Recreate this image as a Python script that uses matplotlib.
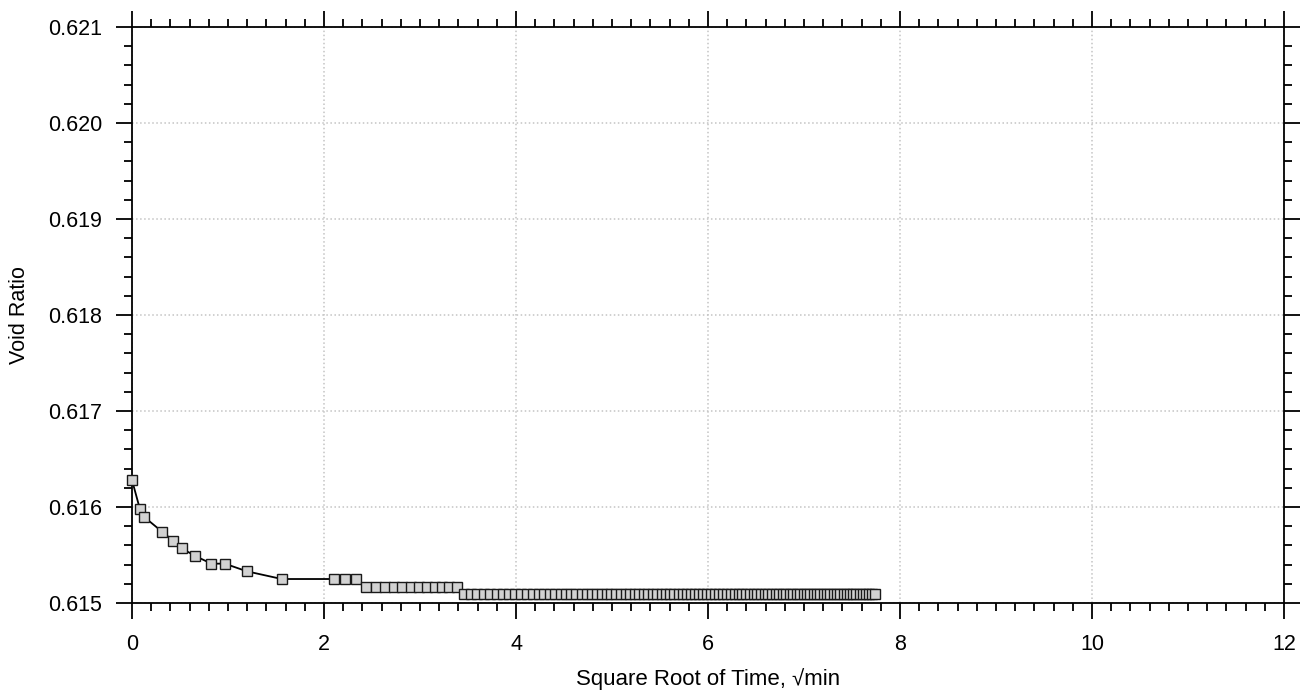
#!/usr/bin/env python3
"""
Void ratio versus square root of time (consolidation increment).
"""

import numpy as np
import matplotlib
matplotlib.use('Agg')
import matplotlib.pyplot as plt
from matplotlib.ticker import MultipleLocator, FormatStrFormatter


# Elapsed time of each reading, seconds
time_s = [0, 0.4, 0.9, 6, 11, 16, 26, 41, 56, 86, 146,
          266, 296, 326, 356, 386, 416, 446, 476, 506, 536, 566, 596, 626, 656, 686,
          716, 746, 776, 806, 836, 866, 896, 926, 956, 986, 1016, 1046, 1076, 1106,
          1136, 1166, 1196, 1226, 1256, 1286, 1316, 1346, 1376, 1406, 1436, 1466,
          1496, 1526, 1556, 1586, 1616, 1646, 1676, 1706, 1736, 1766, 1796, 1826,
          1856, 1886, 1916, 1946, 1976, 2006, 2036, 2066, 2096, 2126, 2156, 2186,
          2216, 2246, 2276, 2306, 2336, 2366, 2396, 2426, 2456, 2486, 2516, 2546,
          2576, 2606, 2636, 2666, 2696, 2726, 2756, 2786, 2816, 2846, 2876, 2906,
          2936, 2966, 2996, 3026, 3056, 3086, 3116, 3146, 3176, 3206, 3236, 3266,
          3296, 3326, 3356, 3386, 3416, 3446, 3476, 3506, 3536, 3566, 3596]

# Void ratio at each reading
void_ratio = [0.61628, 0.61598, 0.61590, 0.61574, 0.61565, 0.61557, 0.61549,
              0.61541, 0.61541, 0.61533, 0.61525,
              0.61525, 0.61525, 0.61525,
              0.61517, 0.61517, 0.61517, 0.61517, 0.61517, 0.61517,
              0.61517, 0.61517, 0.61517, 0.61517, 0.61517, 0.61517,
              0.61509, 0.61509, 0.61509, 0.61509, 0.61509, 0.61509, 0.61509, 0.61509,
              0.61509, 0.61509, 0.61509, 0.61509, 0.61509, 0.61509, 0.61509, 0.61509,
              0.61509, 0.61509, 0.61509, 0.61509, 0.61509, 0.61509, 0.61509, 0.61509,
              0.61509, 0.61509, 0.61509, 0.61509, 0.61509, 0.61509, 0.61509, 0.61509,
              0.61509, 0.61509, 0.61509, 0.61509, 0.61509, 0.61509, 0.61509, 0.61509,
              0.61509, 0.61509, 0.61509, 0.61509, 0.61509, 0.61509, 0.61509, 0.61509,
              0.61509, 0.61509, 0.61509, 0.61509, 0.61509, 0.61509, 0.61509, 0.61509,
              0.61509, 0.61509, 0.61509, 0.61509, 0.61509, 0.61509, 0.61509, 0.61509,
              0.61509, 0.61509, 0.61509, 0.61509, 0.61509, 0.61509, 0.61509, 0.61509,
              0.61509, 0.61509, 0.61509, 0.61509, 0.61509, 0.61509, 0.61509, 0.61509,
              0.61509, 0.61509, 0.61509, 0.61509, 0.61509, 0.61509, 0.61509, 0.61509,
              0.61509, 0.61509, 0.61509, 0.61509, 0.61509, 0.61509, 0.61509, 0.61509,
              0.61509]

plt.rcParams['font.family'] = ['Liberation Sans', 'DejaVu Sans']

# square root of time in minutes
sqrt_t = np.sqrt(np.array(time_s) / 60.0)

fig = plt.figure(figsize=(13.15, 6.96), dpi=100)
ax = fig.add_axes([0.1004, 0.1336, 0.876, 0.8276])

ax.plot(sqrt_t, void_ratio, color='black', linewidth=1.3, marker='s',
        markersize=6.7, markerfacecolor='#d2d2d2', markeredgecolor='#1a1a1a',
        markeredgewidth=1.0, clip_on=False, zorder=3)

ax.set_xlim(0, 12)
ax.set_ylim(0.615, 0.621)

ax.xaxis.set_major_locator(MultipleLocator(2))
ax.xaxis.set_minor_locator(MultipleLocator(0.2))
ax.yaxis.set_major_locator(MultipleLocator(0.001))
ax.yaxis.set_minor_locator(MultipleLocator(0.0002))
ax.yaxis.set_major_formatter(FormatStrFormatter('%.3f'))

ax.tick_params(which='both', direction='out', top=True, right=True,
               width=1.3, color='black')
ax.tick_params(which='major', length=11.5, labelsize=15.5)
ax.tick_params(axis='x', which='major', pad=11)
ax.tick_params(axis='y', which='major', pad=10)
ax.tick_params(which='minor', length=5.5)

for s in ax.spines.values():
    s.set_linewidth(1.3)

ax.grid(True, which='major', linestyle=':', color='#c4c4c4', linewidth=1.1)
ax.set_axisbelow(True)

ax.set_xlabel('Square Root of Time, √min', fontsize=16, labelpad=9)
ax.set_ylabel('Void Ratio', fontsize=15.5, labelpad=13)

plt.savefig('out.png', dpi=100)
plt.close()
